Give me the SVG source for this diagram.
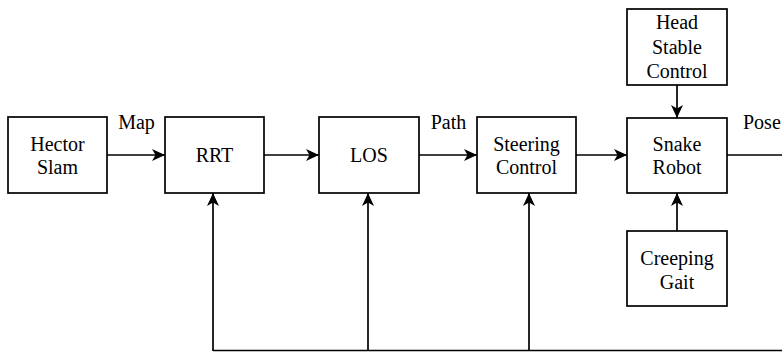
<svg xmlns="http://www.w3.org/2000/svg" width="782" height="352" viewBox="0 0 782 352">
<style>
.box{fill:#fff;stroke:#000;stroke-width:1.7}
.c{fill:none;stroke:#000;stroke-width:1.7}
</style>
<defs>
<marker id="ah" markerUnits="userSpaceOnUse" markerWidth="14" markerHeight="12" viewBox="0 0 14 12" refX="13" refY="6" orient="auto">
<path d="M0,0 L13,6 L0,12 L3.5,6 z" fill="#000"/>
</marker>
</defs>
<rect width="782" height="352" fill="#fff"/>
<g font-family="Liberation Serif, Times New Roman, serif" font-size="20" fill="#000" text-anchor="middle">
<g id="connectors">
<line class="c" x1="107" y1="155" x2="165" y2="155" marker-end="url(#ah)"/>
<line class="c" x1="264" y1="155" x2="319" y2="155" marker-end="url(#ah)"/>
<line class="c" x1="419" y1="155" x2="477" y2="155" marker-end="url(#ah)"/>
<line class="c" x1="576" y1="155" x2="627" y2="155" marker-end="url(#ah)"/>
<line class="c" x1="677" y1="85" x2="677" y2="118" marker-end="url(#ah)"/>
<line class="c" x1="677" y1="231" x2="677" y2="193" marker-end="url(#ah)"/>
<line class="c" x1="727" y1="155" x2="782" y2="155"/>
<line class="c" x1="213" y1="350.5" x2="782" y2="350.5"/>
<line class="c" x1="213" y1="351" x2="213" y2="193" marker-end="url(#ah)"/>
<line class="c" x1="368" y1="350.5" x2="368" y2="193" marker-end="url(#ah)"/>
<line class="c" x1="529" y1="350.5" x2="529" y2="193" marker-end="url(#ah)"/>
<text x="136.5" y="129">Map</text>
<text x="448.5" y="129">Path</text>
<text x="743" y="129" text-anchor="start">Pose</text>
</g>
<g id="hector">
<rect class="box" x="8" y="117" width="99" height="76"/>
<text x="57.5" y="151">Hector</text>
<text x="57.5" y="174">Slam</text>
</g>
<g id="rrt">
<rect class="box" x="165" y="117" width="99" height="76"/>
<text x="214.5" y="162">RRT</text>
</g>
<g id="los">
<rect class="box" x="319" y="117" width="100" height="76"/>
<text x="369" y="162">LOS</text>
</g>
<g id="steering">
<rect class="box" x="477" y="117" width="99" height="76"/>
<text x="526.5" y="151">Steering</text>
<text x="526.5" y="174">Control</text>
</g>
<g id="snake">
<rect class="box" x="627" y="118" width="100" height="75"/>
<text x="677" y="151">Snake</text>
<text x="677" y="174">Robot</text>
</g>
<g id="head">
<rect class="box" x="627" y="9" width="100" height="76"/>
<text x="677" y="29">Head</text>
<text x="677" y="54">Stable</text>
<text x="677" y="78">Control</text>
</g>
<g id="creeping">
<rect class="box" x="627" y="231" width="100" height="75"/>
<text x="677" y="265">Creeping</text>
<text x="677" y="289">Gait</text>
</g>
</g>
</svg>
